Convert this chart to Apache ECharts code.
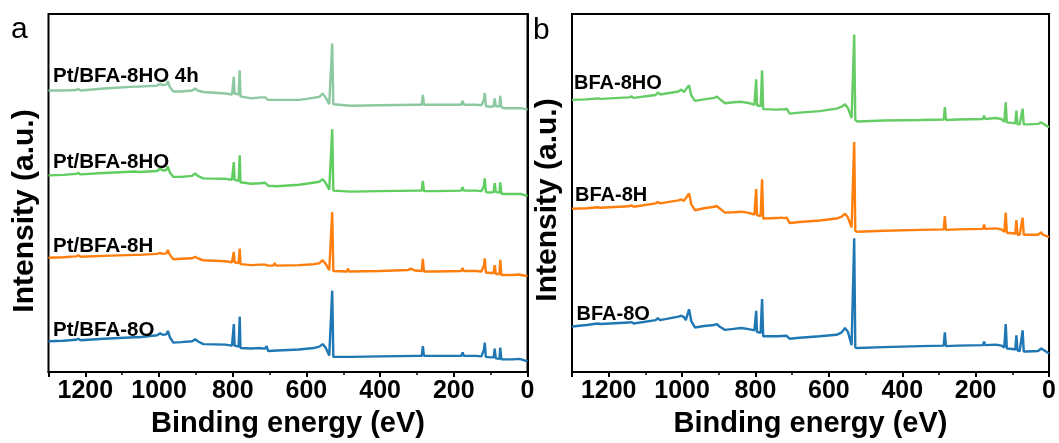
<!DOCTYPE html>
<html>
<head>
<meta charset="utf-8">
<script src="https://cdn.jsdelivr.net/npm/echarts@6/dist/echarts.min.js"></script>
<style>
html,body{margin:0;padding:0;background:#fff;}
#chart{width:1059px;height:443px;}
</style>
</head>
<body>
<div id="chart"></div>
<script>
// Binding energy axis ticks (eV)
const xTicks = [0, 200, 400, 600, 800, 1000, 1200];
// Panel labels
const panelLetters = ['a', 'b'];
const seriesNamesA = ['Pt/BFA-8HO 4h', 'Pt/BFA-8HO', 'Pt/BFA-8H', 'Pt/BFA-8O'];
const seriesNamesB = ['BFA-8HO', 'BFA-8H', 'BFA-8O'];
// Values: [binding energy (eV), vertical reading (offset arbitrary units, top = small)]
const ptBFA8HO4h = [[1300,92],[1260,92],[1225,91.5],[1219,90.5],[1213,92],[1150,90],[1065,88],[1060,86.5],[1055,88],[1005,87],[997,85],[990,86.5],[980,86],[976,82.5],[970,89],[961,93],[940,93],[910,92],[902,90],[895,92],[880,93.5],[820,95],[802,96],[799,94],[797,78],[795,95],[784,96],[781,71.5],[779,98],[775,99.5],[750,100],[725,99],[722,98],[720,99.5],[712,99],[708,97.5],[704,101.5],[680,101.5],[620,101.5],[600,100.5],[565,98.5],[556,95],[548,99],[538,106],[533,104],[530,44],[527,106],[522,107.5],[480,107.5],[400,107],[300,106.5],[287,106.5],[284,96.5],[281,106.5],[250,106.5],[180,106.5],[176,102.5],[173,106.5],[140,106.5],[125,107],[118,101],[116,94.5],[113,108],[100,108.5],[92,108],[89,100],[86,108],[82,110],[76,108],[74,97.5],[71,109],[65,110],[40,110],[23,110],[20,108.5],[17,110],[0,111.5]];
const ptBFA8HO = [[1300,178.5],[1260,178],[1225,177],[1219,176],[1213,177.5],[1150,176],[1065,174.5],[1060,173],[1055,175],[1005,174],[997,171.5],[990,173.5],[980,173],[976,169.5],[970,176],[961,180],[940,180],[910,179],[902,176.5],[895,179],[880,181.5],[820,182],[802,183],[799,182],[797,165],[795,183],[784,184],[781,158],[779,185.5],[775,186.5],[750,187],[725,186.5],[712,186],[708,184.5],[704,189],[680,189.5],[620,188],[600,187],[565,185],[556,182.5],[548,186],[538,193],[533,191],[530,131.5],[527,194],[522,195],[480,195],[400,194.5],[300,194],[287,194],[284,184],[281,194.5],[250,194.5],[180,194],[176,190.5],[173,194],[140,194],[125,194.5],[118,189],[116,181.5],[113,195.5],[100,196],[92,195.5],[89,186.5],[86,195.5],[82,197],[76,196],[74,185.5],[71,197],[65,197.5],[40,197.5],[23,197.5],[20,196.5],[17,197.5],[0,199.5]];
const ptBFA8H = [[1300,262.5],[1260,262],[1225,261],[1219,260],[1213,261.5],[1150,260.5],[1065,259.5],[1060,258],[1055,259.5],[1005,258.5],[997,257.5],[990,258.5],[980,258],[976,254.5],[970,260],[961,264],[940,263.5],[910,263],[902,261.5],[895,263],[880,265],[820,266],[802,267],[799,266],[797,256.5],[795,267],[784,268],[781,253],[779,269],[775,270],[750,270],[724,269.5],[721,267.5],[718,269.5],[712,269.5],[708,267.5],[704,270.5],[690,270.5],[686,268],[682,270.5],[620,270],[580,269],[565,268],[556,265],[548,268.5],[538,275],[533,273],[530,216],[527,276],[522,276.5],[490,276.5],[487,273.5],[484,276.5],[400,276],[325,275],[317,273.5],[305,275.5],[287,276],[284,263.5],[281,276.5],[250,276.5],[180,276],[176,273],[173,276],[140,276],[125,276.5],[118,270],[116,263],[113,277.5],[100,278],[92,278],[89,270],[86,279],[82,279.5],[76,279],[74,264.5],[71,280],[65,280],[40,280],[23,279.5],[20,278],[17,280],[0,281]];
const ptBFA8O = [[1300,347.5],[1260,347],[1225,346],[1219,345],[1213,346.5],[1150,345],[1065,343.5],[1060,341.5],[1055,343.5],[1005,341.5],[997,339.5],[990,341],[980,340.5],[976,337],[970,344],[961,349],[940,348.5],[910,347.5],[902,345.5],[895,347.5],[880,350.5],[820,351],[802,352],[799,351],[797,330],[795,352],[784,353],[781,322.5],[779,354.5],[775,355],[750,355],[724,354.5],[721,353.5],[718,355],[712,355],[708,352.5],[704,357.5],[680,357],[620,356],[580,354.5],[565,353],[556,350.5],[548,354],[538,362],[533,360],[530,296],[527,363.5],[522,364],[480,363.5],[400,363],[300,362.5],[287,362.5],[284,352.5],[281,362.5],[250,362.5],[180,362.5],[176,359],[173,362.5],[140,362.5],[125,363],[118,356],[116,349],[113,363.5],[100,364],[92,364],[89,355],[86,365],[82,366],[76,365.5],[74,354],[71,366],[65,366],[40,366],[23,365.5],[20,364],[17,366],[0,368]];
const BFA8HO = [[1300,101.5],[1260,101],[1230,100],[1226,99],[1222,100.5],[1145,99],[1138,98],[1132,99.5],[1072,96.5],[1066,94],[1060,96],[1010,93],[1002,91],[995,93.5],[990,95],[981,86.5],[975,97],[965,102.5],[940,101],[912,99.5],[906,98],[898,100.5],[883,105],[860,104],[838,103.5],[815,105],[803,106.5],[800,105],[798,80.5],[796,107],[786,108],[782,71.5],[779,111],[775,112.5],[740,111.5],[730,111],[726,110],[722,111.5],[715,110.5],[711,108.5],[707,115.5],[680,114.5],[625,113],[579,110.5],[565,108.5],[556,106],[548,110],[538,120],[534,119],[531,35],[528,122],[522,123.5],[450,122.5],[350,122],[287,121.5],[284,109],[281,122],[250,121.5],[180,121],[177,117.5],[174,121],[145,120],[130,121],[122,124],[118,104],[115,124.5],[100,125],[92,125.5],[89,112.5],[86,126.5],[80,126.5],[75,126.5],[72,110.5],[69,126.5],[60,126.5],[30,126],[25,126],[21,124.5],[17,126.5],[0,129.5]];
const BFA8H = [[1300,212.5],[1260,212],[1230,211],[1226,210.5],[1222,211.5],[1145,210],[1138,209],[1132,210.5],[1072,207],[1066,205.5],[1060,207],[1010,204],[1002,203],[995,204.5],[990,206],[981,197],[975,208],[965,214],[940,212],[912,210.5],[906,209.5],[898,212],[883,216.5],[860,216],[838,215.5],[815,217],[803,218.5],[800,217.5],[798,192.5],[796,219],[786,220],[782,182.5],[779,222.5],[775,223.5],[740,222],[730,221.5],[726,220.5],[722,222],[715,221.5],[711,219.5],[707,227],[680,226],[625,224.5],[579,222.5],[565,220.5],[556,217.5],[548,221.5],[538,231.5],[534,230],[531,144.5],[528,235],[522,236],[450,235],[350,234],[287,233.5],[284,220],[281,234],[250,233.5],[180,233],[177,228.5],[174,233],[145,232.5],[130,233.5],[122,236],[118,216.5],[115,237],[100,237.5],[92,238],[89,224],[86,239],[80,239],[75,238.5],[72,221.5],[69,239],[60,239],[30,239],[25,238.5],[21,236.5],[17,239],[0,241.5]];
const BFA8O = [[1300,332.5],[1260,331],[1230,329.5],[1226,328.5],[1222,330],[1145,328.5],[1138,328],[1132,329.5],[1072,326],[1066,324],[1060,326],[1010,322.5],[1002,321.5],[995,323],[990,326],[981,315],[975,327],[965,333.5],[940,332],[912,331],[906,330],[898,332.5],[883,336],[860,335],[838,334],[815,335.5],[803,336.5],[800,336],[798,316.5],[796,338],[786,339],[782,304.5],[779,342.5],[775,343.5],[740,342.5],[715,342],[711,340.5],[707,345],[680,344],[625,342.5],[579,341],[565,338.5],[556,334],[548,338],[538,351.5],[534,350],[531,242.5],[528,354],[522,354.5],[450,353.5],[350,352.5],[287,352],[284,338.5],[281,352.5],[250,352],[180,351.5],[177,348],[174,351.5],[145,351],[130,352],[122,354],[118,330],[115,355],[100,355.5],[92,356],[89,341.5],[86,357],[80,357.5],[75,357.5],[72,336.5],[69,358],[60,358],[30,357.5],[25,356],[21,355],[17,357],[0,360]];

const FONT = '"Liberation Sans", Arial, Helvetica, sans-serif';
const NARROW = '"Liberation Sans Narrow", "Arial Narrow", "Liberation Sans", Arial, sans-serif';
const colorsA = ['#8cc8a0', '#5fcd5f', '#ff7f0e', '#1f77b4'];
const colorsB = ['#66cc66', '#ff7f0e', '#1f77b4'];
const dataA = [ptBFA8HO4h, ptBFA8HO, ptBFA8H, ptBFA8O];
const dataB = [BFA8HO, BFA8H, BFA8O];

const chart = echarts.init(document.getElementById('chart'), null, {renderer: 'canvas'});

function xAxisCfg(gi) {
  return {
    gridIndex: gi, type: 'value', min: 0, max: 1300, interval: 200, inverse: true,
    axisLine: {show: true, lineStyle: {color: '#000', width: 2}},
    axisTick: {show: true, inside: false, length: 5, lineStyle: {color: '#000', width: 2}},
    minorTick: {show: true, splitNumber: 2, length: 3, lineStyle: {color: '#000', width: 1.5}},
    axisLabel: {margin: 7, fontSize: 25, fontWeight: 'bold', color: '#000', fontFamily: NARROW,
      formatter: v => xTicks.indexOf(v) >= 0 ? String(v) : ''},
    splitLine: {show: false}, minorSplitLine: {show: false},
    name: 'Binding energy (eV)', nameLocation: 'middle', nameGap: 33,
    nameTextStyle: {fontSize: 29, fontWeight: 'bold', color: '#000', fontFamily: FONT}
  };
}
function yAxisCfg(gi) {
  return {
    gridIndex: gi, type: 'value', min: 14, max: 379, inverse: true,
    axisLine: {show: true, lineStyle: {color: '#000', width: 2}},
    axisTick: {show: false}, axisLabel: {show: false}, splitLine: {show: false}
  };
}

const series = [];
dataA.forEach((d, i) => series.push({
  name: seriesNamesA[i], type: 'line', xAxisIndex: 0, yAxisIndex: 0, data: d,
  showSymbol: false, symbol: 'none', lineStyle: {color: colorsA[i], width: 2.4}, z: 2
}));
dataB.forEach((d, i) => series.push({
  name: seriesNamesB[i], type: 'line', xAxisIndex: 1, yAxisIndex: 1, data: d,
  showSymbol: false, symbol: 'none', lineStyle: {color: colorsB[i], width: 2.4}, z: 2
}));

const labelPosA = [[53, 76], [53, 162.7], [53, 246], [53, 330]];
const labelPosB = [[574, 83.7], [575, 195], [576.5, 314.7]];
const graphics = [];
seriesNamesA.forEach((n, i) => graphics.push({
  type: 'text', x: labelPosA[i][0], y: labelPosA[i][1], z: 10,
  style: {text: n, font: 'bold 20.5px ' + FONT, fill: '#000', align: 'left', verticalAlign: 'middle'}
}));
seriesNamesB.forEach((n, i) => graphics.push({
  type: 'text', x: labelPosB[i][0], y: labelPosB[i][1], z: 10,
  style: {text: n, font: 'bold 20px ' + FONT, fill: '#000', align: 'left', verticalAlign: 'middle'}
}));
graphics.push({type: 'text', x: 11, y: 30, z: 10,
  style: {text: panelLetters[0], font: '30px ' + FONT, fill: '#000', align: 'left', verticalAlign: 'middle'}});
graphics.push({type: 'text', x: 533, y: 31, z: 10,
  style: {text: panelLetters[1], font: '30px ' + FONT, fill: '#000', align: 'left', verticalAlign: 'middle'}});
graphics.push({type: 'text', x: 25, y: 211, rotation: Math.PI / 2, z: 10,
  style: {text: 'Intensity (a.u.)', font: 'bold 30px ' + FONT, fill: '#000', align: 'center', verticalAlign: 'middle'}});
graphics.push({type: 'text', x: 548, y: 200, rotation: Math.PI / 2, z: 10,
  style: {text: 'Intensity (a.u.)', font: 'bold 30px ' + FONT, fill: '#000', align: 'center', verticalAlign: 'middle'}});

chart.setOption({
  animation: false,
  backgroundColor: '#fff',
  grid: [
    {left: 48.5, top: 14, width: 479, height: 365, show: true, borderColor: '#000', borderWidth: 2, backgroundColor: 'transparent'},
    {left: 572, top: 14, width: 477.5, height: 365, show: true, borderColor: '#000', borderWidth: 2, backgroundColor: 'transparent'}
  ],
  xAxis: [xAxisCfg(0), xAxisCfg(1)],
  yAxis: [yAxisCfg(0), yAxisCfg(1)],
  series: series,
  graphic: graphics
});
</script>
</body>
</html>
